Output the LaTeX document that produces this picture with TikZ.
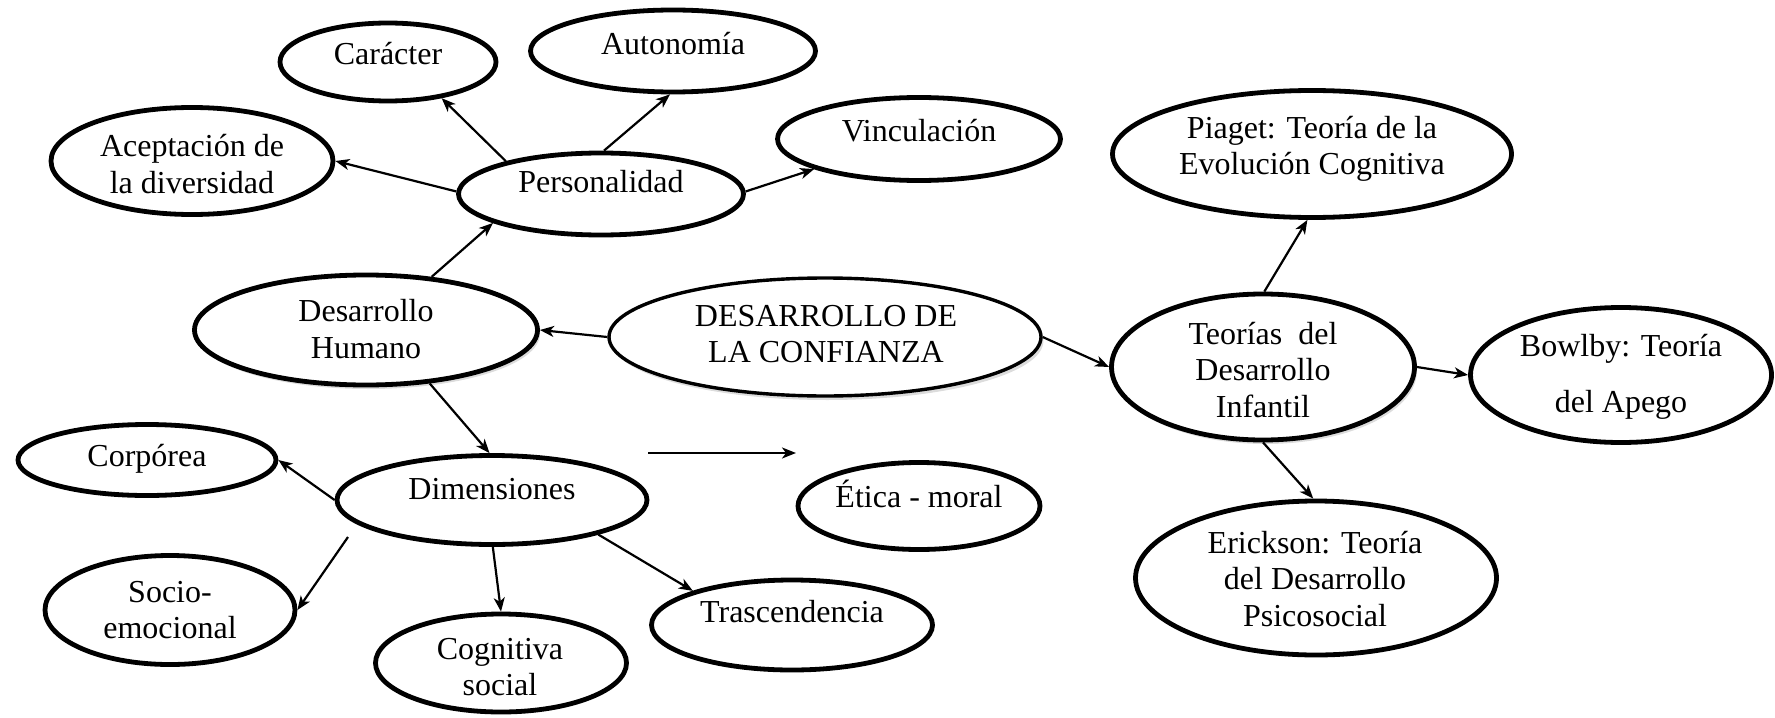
\documentclass[tikz,border=0pt]{standalone}
\usepackage{fontspec}
\setmainfont{Liberation Serif}
\usetikzlibrary{arrows.meta,shapes.geometric,shadows}
\begin{document}
\begin{tikzpicture}[x=0.5pt,y=-0.5pt,
  el/.style={ellipse,draw,line width=2.4pt,inner sep=0pt,fill=white},
  tx/.style={align=center,font=\fontsize{16}{18.3}\selectfont,inner sep=0pt},
  arr/.style={-{Stealth[length=7pt,width=5.5pt,inset=2pt]},line width=1.1pt},
  sh/.style={drop shadow={shadow xshift=1.2pt,shadow yshift=-2pt,opacity=0.28}}]
\useasboundingbox (0,0) rectangle (1775,717);
% ellipses
\node[el,minimum width=108pt,minimum height=39pt] (car) at (388,62) {};
\node[el,minimum width=142.5pt,minimum height=41pt] (aut) at (673,51) {};
\node[el,minimum width=141pt,minimum height=53.5pt] (acep) at (192,161) {};
\node[el,minimum width=142.5pt,minimum height=41pt] (pers) at (601,194) {};
\node[el,minimum width=141.5pt,minimum height=41.5pt] (vinc) at (919,139) {};
\node[el,minimum width=199.5pt,minimum height=63.5pt] (piag) at (1312,154) {};
\node[el,sh,minimum width=171.5pt,minimum height=55pt] (dh) at (366,330) {};
\node[el,sh,line width=1.7pt,minimum width=216pt,minimum height=59pt] (conf) at (825,337) {};
\node[el,sh,minimum width=151.5pt,minimum height=73pt] (teo) at (1263,367) {};
\node[el,minimum width=150.5pt,minimum height=67.5pt] (bow) at (1621,375) {};
\node[el,minimum width=129pt,minimum height=35.5pt] (corp) at (147,460) {};
\node[el,minimum width=155pt,minimum height=44.5pt] (dim) at (492,500) {};
\node[el,minimum width=121pt,minimum height=43.5pt] (etica) at (919,506) {};
\node[el,minimum width=180.5pt,minimum height=77pt] (erick) at (1316,578) {};
\node[el,minimum width=125pt,minimum height=54.5pt] (socio) at (170,610) {};
\node[el,minimum width=125.5pt,minimum height=49pt] (cog) at (501,663) {};
\node[el,minimum width=140.5pt,minimum height=45pt] (trasc) at (792,625) {};
% texts
\node[tx] (cart) at (388,54) {Carácter};
\node[tx] (autt) at (673,44) {Autonomía};
\node[tx] (acept) at (192,164) {Aceptación de\\la diversidad};
\node[tx] (perst) at (601,182) {Personalidad};
\node[tx] (vinct) at (919,131) {Vinculación};
\node[tx] (piagt) at (1312,149) {Piaget: Teoría de la\\Evolución Cognitiva};
\node[tx] (dht) at (366,329) {Desarrollo\\Humano};
\node[tx] (conft) at (826,334) {DESARROLLO DE\\LA CONFIANZA};
\node[tx] (teot) at (1263,370) {Teorías\ \ del\\Desarrollo\\Infantil};
\node[tx,font=\fontsize{16}{28}\selectfont] (bowt) at (1621,377) {Bowlby: Teoría\\del Apego};
\node[tx] (corpt) at (147,459) {Corpórea};
\node[tx] (dimt) at (492,489) {Dimensiones};
\node[tx] (eticat) at (919,494) {Ética - moral};
\node[tx] (erickt) at (1315,579) {Erickson: Teoría\\del Desarrollo\\Psicosocial};
\node[tx] (sociot) at (170,610) {Socio-\\emocional};
\node[tx] (cogt) at (500,667) {Cognitiva\\social};
\node[tx] (trasct) at (792,612) {Trascendencia};
% connectors
\draw[arr] (pers.161) -- (car.-34.5);
\draw[arr] (pers.86) -- (aut.266);
\draw[arr] (pers.179) -- (acep.0.4);
\draw[arr] (pers.1) -- (vinc.196.6);
\draw[arr] (dh.39.4) -- (pers.195.6);
\draw[arr] (conf.180.3) -- (dh.-0.7);
\draw[arr] (conf.-0.8) -- (teo.180);
\draw[arr] (teo.89.2) -- (piag.266.5);
\draw[arr] (teo.0) -- (bow.180.7);
\draw[arr] (teo.270.7) -- (erick.92.1);
\draw[arr] (dh.-40.9) -- (dim.93.6);
\draw[arr] (dim.180.7) -- (corp.-0.9);
\draw[arr] ([shift={(-144,37)}]dim.center) -- (socio.0);
\draw[arr] (dim.271) -- (cog.90);
\draw[arr] (dim.-18.3) -- (trasc.161.1);
\coordinate (fa) at (648,453);
\coordinate (fb) at (796,453);
\draw[arr] (fa) -- (fb);
\end{tikzpicture}
\end{document}
